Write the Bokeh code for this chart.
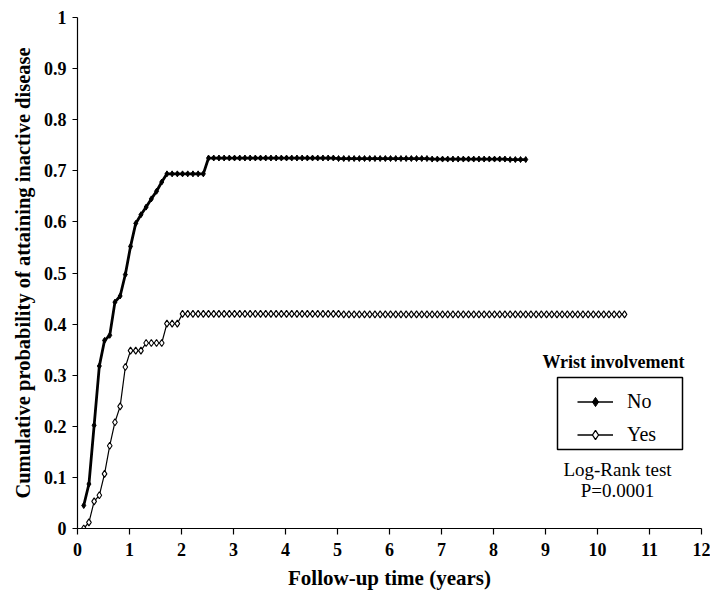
from bokeh.plotting import figure
from bokeh.models import (Range1d, Legend, LegendItem, BoxAnnotation, Label,
                          FixedTicker, ColumnDataSource)
from bokeh.embed import file_html
from bokeh.resources import INLINE

# ---------------- data ----------------
FOLLOWUP_YEARS = [
    0.12, 0.22, 0.32, 0.42, 0.52, 0.62, 0.72, 0.82, 0.92, 1.02,
    1.12, 1.22, 1.32, 1.42, 1.52, 1.62, 1.72, 1.82, 1.92, 2.02,
    2.12, 2.22, 2.32, 2.42, 2.52, 2.62, 2.72, 2.82, 2.92, 3.02,
    3.12, 3.22, 3.32, 3.42, 3.52, 3.62, 3.72, 3.82, 3.92, 4.02,
    4.12, 4.22, 4.32, 4.42, 4.52, 4.62, 4.72, 4.82, 4.92, 5.02,
    5.12, 5.22, 5.32, 5.42, 5.52, 5.62, 5.72, 5.82, 5.92, 6.02,
    6.12, 6.22, 6.32, 6.42, 6.52, 6.62, 6.72, 6.82, 6.92, 7.02,
    7.12, 7.22, 7.32, 7.42, 7.52, 7.62, 7.72, 7.82, 7.92, 8.02,
    8.12, 8.22, 8.32, 8.42, 8.52, 8.62, 8.72, 8.82, 8.92, 9.02,
    9.12, 9.22, 9.32, 9.42, 9.52, 9.62, 9.72, 9.82, 9.92, 10.02,
    10.12, 10.22, 10.32, 10.42, 10.52,
]

# Wrist involvement: No (86 follow-up points)
NO_WRIST = [
    0.045, 0.087, 0.202, 0.318, 0.368, 0.378, 0.443, 0.455, 0.497, 0.552,
    0.597, 0.614, 0.629, 0.645, 0.660, 0.678, 0.694, 0.694, 0.694, 0.694,
    0.694, 0.694, 0.694, 0.694, 0.725, 0.725, 0.725, 0.725, 0.725, 0.725,
    0.725, 0.725, 0.725, 0.725, 0.725, 0.725, 0.725, 0.725, 0.725, 0.725,
    0.725, 0.725, 0.725, 0.725, 0.725, 0.725, 0.725, 0.725, 0.725, 0.724,
    0.724, 0.724, 0.724, 0.724, 0.724, 0.724, 0.724, 0.724, 0.724, 0.724,
    0.724, 0.724, 0.724, 0.724, 0.724, 0.724, 0.724, 0.723, 0.723, 0.723,
    0.723, 0.723, 0.723, 0.723, 0.723, 0.723, 0.723, 0.723, 0.723, 0.723,
    0.723, 0.723, 0.722, 0.722, 0.722, 0.722,
]

# Wrist involvement: Yes (105 follow-up points)
YES_WRIST = [
    0.000, 0.012, 0.053, 0.065, 0.107, 0.162, 0.208, 0.239, 0.316, 0.348,
    0.348, 0.348, 0.363, 0.363, 0.363, 0.363, 0.401, 0.401, 0.401, 0.420,
    0.420, 0.420, 0.420, 0.420, 0.420, 0.420, 0.420, 0.420, 0.420, 0.420,
    0.420, 0.420, 0.420, 0.420, 0.420, 0.420, 0.420, 0.420, 0.420, 0.420,
    0.420, 0.420, 0.420, 0.420, 0.420, 0.420, 0.420, 0.420, 0.420, 0.420,
    0.419, 0.419, 0.419, 0.419, 0.419, 0.419, 0.419, 0.419, 0.419, 0.419,
    0.419, 0.419, 0.419, 0.419, 0.419, 0.419, 0.419, 0.419, 0.419, 0.419,
    0.419, 0.419, 0.419, 0.419, 0.419, 0.419, 0.419, 0.419, 0.419, 0.419,
    0.419, 0.419, 0.419, 0.419, 0.419, 0.419, 0.419, 0.419, 0.419, 0.419,
    0.419, 0.419, 0.419, 0.419, 0.419, 0.419, 0.419, 0.419, 0.419, 0.419,
    0.419, 0.419, 0.419, 0.419, 0.419,
]

X_TICKS = [0, 1, 2, 3, 4, 5, 6, 7, 8, 9, 10, 11, 12]
Y_TICKS = [0, 0.1, 0.2, 0.3, 0.4, 0.5, 0.6, 0.7, 0.8, 0.9, 1]
Y_TICK_LABELS = ["0", "0.1", "0.2", "0.3", "0.4", "0.5", "0.6", "0.7", "0.8", "0.9", "1"]

SERIES_NAMES = ["No", "Yes"]
LEGEND_TITLE = "Wrist involvement"
TEST_LINES = ["Log-Rank test", "P=0.0001"]
X_TITLE = "Follow-up time (years)"
Y_TITLE = "Cumulative probability of attaining inactive disease"

FONT = "Liberation Serif"
NAN = float("nan")

# ---------------- figure ----------------
p = figure(width=710, height=596, x_range=Range1d(0, 12), y_range=Range1d(0, 1),
           output_backend="svg", toolbar_location=None,
           min_border_left=77, min_border_right=9, min_border_top=17,
           min_border_bottom=68)
p.outline_line_color = None
p.grid.visible = False
p.background_fill_color = "white"

for ax in (p.xaxis[0], p.yaxis[0]):
    ax.axis_line_color = "black"
    ax.axis_line_width = 1.2
    ax.major_tick_line_color = "black"
    ax.major_tick_line_width = 1.2
    ax.major_tick_in = 0
    ax.minor_tick_line_color = None
    ax.major_label_text_font = FONT
    ax.major_label_text_font_style = "bold"
    ax.major_label_text_font_size = "18px"
    ax.major_label_text_color = "black"
    ax.axis_label_text_font = FONT
    ax.axis_label_text_font_style = "bold"
    ax.axis_label_text_color = "black"

p.xaxis.ticker = FixedTicker(ticks=X_TICKS)
p.xaxis.major_tick_out = 6
p.xaxis.major_label_standoff = 8
p.xaxis.axis_label = X_TITLE
p.xaxis.axis_label_text_font_size = "21px"
p.xaxis.axis_label_standoff = 7

p.yaxis.ticker = FixedTicker(ticks=Y_TICKS)
p.yaxis.major_label_overrides = {t: s for t, s in zip(Y_TICKS, Y_TICK_LABELS)}
p.yaxis.major_tick_out = 5
p.yaxis.major_label_standoff = 6
p.yaxis.axis_label = Y_TITLE
p.yaxis.axis_label_text_font_size = "20.5px"
p.yaxis.axis_label_standoff = 7

src_no = ColumnDataSource(dict(t=FOLLOWUP_YEARS[:len(NO_WRIST)], s=NO_WRIST))
src_yes = ColumnDataSource(dict(t=FOLLOWUP_YEARS[:len(YES_WRIST)], s=YES_WRIST))

r_yes_line = p.line("t", "s", source=src_yes, line_color="black", line_width=1.2)
r_yes_pts = p.scatter("t", "s", source=src_yes, marker="diamond", size=7,
                      fill_color="white", line_color="black", line_width=1.1)
r_no_line = p.line("t", "s", source=src_no, line_color="black", line_width=2.8)
r_no_pts = p.scatter("t", "s", source=src_no, marker="diamond", size=6,
                     fill_color="black", line_color="black", line_width=1)

# legend keys only (no visible data; larger markers as in the reference legend)
key_src = ColumnDataSource(dict(t=[NAN], s=[NAN]))
key_line_no = p.line("t", "s", source=key_src, line_color="black", line_width=1.6)
key_no = p.scatter("t", "s", source=key_src, marker="diamond", size=12,
                   fill_color="black", line_color="black", line_width=1)
key_line_yes = p.line("t", "s", source=key_src, line_color="black", line_width=1.6)
key_yes = p.scatter("t", "s", source=key_src, marker="diamond", size=12,
                    fill_color="white", line_color="black", line_width=1.3)

legend = Legend(items=[LegendItem(label=SERIES_NAMES[0], renderers=[key_line_no, key_no]),
                       LegendItem(label=SERIES_NAMES[1], renderers=[key_line_yes, key_yes])],
                location=(500, 82), padding=0, margin=0, spacing=10,
                glyph_width=36, glyph_height=23, label_height=23, label_standoff=14,
                label_text_font=FONT, label_text_font_size="20px",
                label_text_color="black", border_line_color=None,
                background_fill_alpha=0)
p.add_layout(legend)

box = BoxAnnotation(left=480, right=605, bottom=79, top=151,
                    left_units="screen", right_units="screen",
                    bottom_units="screen", top_units="screen",
                    fill_alpha=0, line_color="black", line_alpha=1, line_width=1.5)
p.add_layout(box)

p.add_layout(Label(x=536, y=167, x_units="screen", y_units="screen",
                   text=LEGEND_TITLE, text_font=FONT, text_font_style="bold",
                   text_font_size="18px", text_align="center",
                   text_baseline="middle", text_color="black"))
p.add_layout(Label(x=540, y=59, x_units="screen", y_units="screen",
                   text=TEST_LINES[0], text_font=FONT, text_font_size="19px",
                   text_align="center", text_baseline="middle", text_color="black"))
p.add_layout(Label(x=540, y=38, x_units="screen", y_units="screen",
                   text=TEST_LINES[1], text_font=FONT, text_font_size="19px",
                   text_align="center", text_baseline="middle", text_color="black"))

open("out.html", "w").write(file_html(p, INLINE))
